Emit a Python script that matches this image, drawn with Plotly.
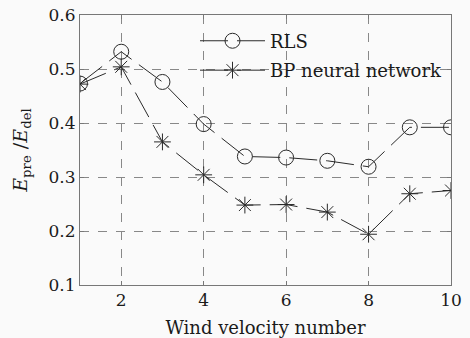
import plotly.graph_objects as go

wind_number = [1, 2, 3, 4, 5, 6, 7, 8, 9, 10]
rls_values = [0.473, 0.532, 0.476, 0.398, 0.338, 0.336, 0.330, 0.319, 0.392, 0.392]
bp_values = [0.472, 0.504, 0.365, 0.304, 0.248, 0.249, 0.235, 0.194, 0.269, 0.275]
x_ticks = [2, 4, 6, 8, 10]
y_ticks = [0.1, 0.2, 0.3, 0.4, 0.5, 0.6]

font_family = "DejaVu Serif"
line_col = "#2a2a2a"
text_col = "#1a1a1a"

fig = go.Figure()
fig.add_trace(go.Scatter(
    x=wind_number, y=rls_values, name="RLS", mode="lines+markers", legendgroup="a",
    line=dict(color=line_col, width=1, dash="28px,9px"),
    marker=dict(symbol="circle-open", size=15, color=line_col, line=dict(width=1, color=line_col)),
))
fig.add_trace(go.Scatter(
    x=wind_number, y=bp_values, name="BP neural network", mode="lines+markers", legendgroup="b",
    line=dict(color=line_col, width=1, dash="28px,9px"),
    marker=dict(symbol="asterisk-open", size=14, color=line_col, line=dict(width=1, color=line_col)),
))

axis_common = dict(
    showline=True, linecolor="#777", linewidth=1, mirror="ticks",
    ticks="inside", ticklen=4, tickcolor="#777",
    showgrid=True, gridcolor="#888", griddash="dash", gridwidth=1,
    zeroline=False, automargin=False,
    tickfont=dict(family=font_family, size=17, color=text_col),
)

fig.update_xaxes(
    range=[1, 10], tickvals=x_ticks,
    title=dict(text="Wind velocity number", font=dict(family=font_family, size=18, color=text_col)),
    **axis_common,
)
fig.update_yaxes(
    range=[0.1, 0.6], tickvals=y_ticks, tickformat=".1f",
    title=dict(text="<i>E</i><sub>pre</sub> /<i>E</i><sub>del</sub>", font=dict(family=font_family, size=19, color=text_col)),
    **axis_common,
)

fig.update_layout(
    width=470, height=338,
    margin=dict(l=80, r=19, t=15, b=53),
    paper_bgcolor="#fafafa", plot_bgcolor="#fafafa",
    showlegend=True,
    legend=dict(x=0.31, y=0.972, xanchor="left", yanchor="top",
                bgcolor="rgba(0,0,0,0)", font=dict(family=font_family, size=18, color=text_col),
                tracegroupgap=3, itemwidth=65),
)

fig.write_html("out.html", config={"displayModeBar": False},
               post_script="document.body.style.margin='0';")
